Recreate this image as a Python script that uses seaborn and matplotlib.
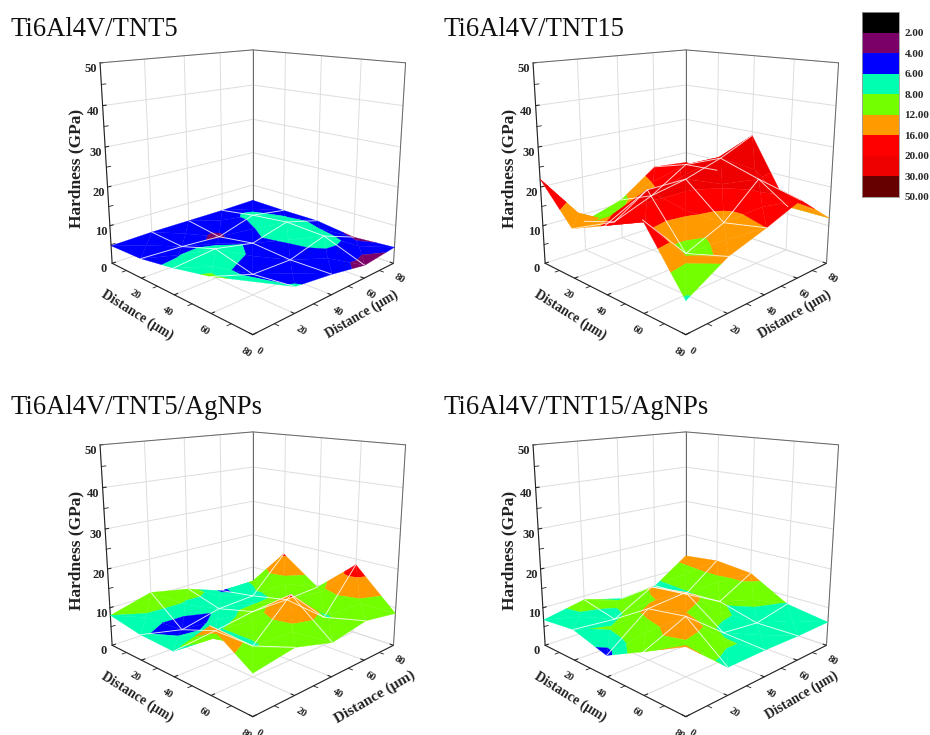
import numpy as np
import matplotlib
matplotlib.use("Agg")
import matplotlib.pyplot as plt
from matplotlib.colors import ListedColormap
from mpl_toolkits.mplot3d.art3d import Poly3DCollection
import seaborn as sns

# hardness, rows are x = 0..80, columns are y = 0..80
distance = [0, 20, 40, 60, 80]
nan = float("nan")
tnt5 = [[4.7, 5.0, 5.0, 5.0, 5.2],
        [5.0, 4.5, 3.7, 6.6, 5.0],
        [6.5, 7.5, 5.4, 7.8, 5.0],
        [8.5, 5.0, 4.7, 7.3, 3.6],
        [nan, 6.2, 5.0, 3.3, 4.3]]
tnt15 = [[22.0, 8.0, 11.0, 18.0, 17.0],
         [12.5, 11.0, 15.0, 21.0, 17.0],
         [16.5, 22.0, 22.0, 25.0, 29.0],
         [21.0, 10.0, 14.0, 22.0, 12.0],
         [7.4, 13.0, 16.0, 19.5, 12.0]]
tnt5_ag = [[8.0, 11.0, 9.0, 5.5, 4.7],
           [6.5, 4.2, 6.5, 7.0, 16.5],
           [6.2, 7.5, 9.0, 9.0, 9.5],
           [15.8, 7.5, 16.5, 7.5, 18.5],
           [9.4, 11.0, 8.3, 10.0, 8.5]]
tnt15_ag = [[6.8, 9.0, 6.2, 7.0, 13.5],
            [7.8, 7.0, 12.5, 7.5, 14.5],
            [5.2, 13.0, 14.0, 8.5, 13.5],
            [10.0, 14.5, 7.0, 6.0, 7.8],
            [15.0, 6.5, 6.5, 6.2, 6.2]]

titles = ["Ti6Al4V/TNT5", "Ti6Al4V/TNT15", "Ti6Al4V/TNT5/AgNPs", "Ti6Al4V/TNT15/AgNPs"]
panels = [tnt5, tnt15, tnt5_ag, tnt15_ag]
levels = [0, 2, 4, 6, 8, 12, 16, 20, 30, 50]
level_labels = ["2.00", "4.00", "6.00", "8.00", "12.00", "16.00", "20.00", "30.00", "50.00"]
band_colors = ["#000000", "#7b0068", "#0000ff", "#00ffb0", "#73ff00",
               "#ff9a00", "#ff0000", "#ee0000", "#660000"]

sns.set_style("white")
plt.rcParams["font.family"] = ["Liberation Serif", "DejaVu Serif"]
palette = sns.color_palette(band_colors)


def clip(poly, level, keep_above):
    # cut a polygon in 3d against a horizontal plane
    out = []
    for a, b in zip(poly, poly[1:] + poly[:1]):
        a_in = a[2] >= level if keep_above else a[2] <= level
        b_in = b[2] >= level if keep_above else b[2] <= level
        if a_in:
            out.append(a)
        if a_in != b_in:
            t = (level - a[2]) / (b[2] - a[2])
            out.append((a[0] + t * (b[0] - a[0]), a[1] + t * (b[1] - a[1]), level))
    return out


def cell_triangles(p):
    # four triangles round the cell centre, or one when a corner has no value
    p = [v for v in p if not np.isnan(v[2])]
    if len(p) < 3:
        return []
    if len(p) == 3:
        return [p]
    mid = tuple(np.mean(p, axis=0))
    return [[p[k], p[(k + 1) % 4], mid] for k in range(4)]


def band_polys(z, i, j):
    # flat coloured bands of one cell, same as a contour fill on its triangles
    polys, colors = [], []
    corners = [(i, j), (i + 1, j), (i + 1, j + 1), (i, j + 1)]
    p = [(distance[a], distance[b], z[a][b]) for a, b in corners]
    for tri in cell_triangles(p):
        for k in range(len(band_colors)):
            part = clip(tri, levels[k], True)
            if part:
                part = clip(part, levels[k + 1], False)
            if len(part) >= 3:
                polys.append(part)
                colors.append(palette[k])
    return polys, colors


def draw_panel(ax, z):
    ax.computed_zorder = False
    ax.set_proj_type("persp", focal_length=0.28)
    ax.view_init(elev=15, azim=-45)
    ax.set_box_aspect((1, 1, 1.0), zoom=0.81)
    ax.set_xlim(0, 80, view_margin=0)
    ax.set_ylim(0, 80, view_margin=0)
    ax.set_zlim(0, 50, view_margin=0)
    ax.set_xticks([20, 40, 60, 80])
    ax.set_yticks([0, 20, 40, 60, 80])
    ax.set_zticks([0, 10, 20, 30, 40, 50])
    ax.tick_params(axis="x", labelsize=7.5, pad=-2, labelrotation=-32)
    ax.tick_params(axis="y", labelsize=7.5, pad=-2, labelrotation=-32)
    ax.tick_params(axis="z", labelsize=9, pad=-3)
    ax.zaxis.set_ticks_position("lower")
    for axis in (ax.xaxis, ax.yaxis, ax.zaxis):
        axis.set_pane_color((1, 1, 1, 1))
        axis.pane.set_edgecolor("white")
        axis.line.set_color("#222222")
        axis.line.set_linewidth(0.8)
        axis._axinfo["grid"]["color"] = "#dddddd"
        axis._axinfo["grid"]["linewidth"] = 0.7
        axis._axinfo["tick"]["inward_factor"] = 0
        axis._axinfo["tick"]["outward_factor"] = 0.25
        for lab in axis.get_ticklabels():
            lab.set_fontweight("bold")

    # rest of the box
    for a, b in [((0, 80, 0), (0, 80, 50)), ((80, 80, 0), (80, 80, 50)),
                 ((0, 0, 50), (0, 80, 50)), ((0, 80, 50), (80, 80, 50))]:
        ax.plot(*zip(a, b), color="#666666", lw=0.7, zorder=1)

    # minor ticks
    for v in [10, 30, 50, 70]:
        ax.plot([v, v], [0, -2], [0, 0], color="#222222", lw=0.6, zorder=1)
        ax.plot([80, 82], [v, v], [0, 0], color="#222222", lw=0.6, zorder=1)
    for v in [5, 15, 25, 35, 45]:
        ax.plot([0, 0], [0, 2], [v, v], color="#222222", lw=0.6, zorder=1)

    # camera sits at high x, low y, so paint the cells back to front
    for i in range(4):
        for j in range(4):
            polys, colors = band_polys(z, i, j)
            if polys:
                surf = Poly3DCollection(polys, facecolors=colors, edgecolors=colors,
                                        linewidths=0.2, zorder=2 + (i + 3 - j) * 0.01)
                ax.add_collection3d(surf)

    # white mesh on the surface
    grid_z = np.array(z)
    for i in range(1, 4):
        ax.plot([distance[i]] * 5, distance, grid_z[i, :], color="white", lw=0.7, alpha=0.8, zorder=3)
        ax.plot(distance, [distance[i]] * 5, grid_z[:, i], color="white", lw=0.7, alpha=0.8, zorder=3)


def px_text(x, y, s, **kw):
    fig.text(x / 930, 1 - y / 735, s, ha="center", va="center", fontweight="bold", color="#222222", **kw)


fig = plt.figure(figsize=(9.3, 7.35), dpi=100)
origins = [(0, 0), (433, 0), (0, 382), (433, 382)]
title_y = [29, 29, 408, 408]
right_label = [(362, 314, 9.8), (362, 314, 9.8), (375, 315, 11), (369, 313, 9.8)]
size = 430
for name, z, (ox, oy), ty, rl in zip(titles, panels, origins, title_y, right_label):
    cx, cy = 247 + ox, 173 + oy
    ax = fig.add_axes([(cx - size / 2) / 930, 1 - (cy + size / 2) / 735, size / 930, size / 735],
                      projection="3d", facecolor="none")
    draw_panel(ax, z)
    fig.text((10 + ox) / 930, 1 - ty / 735, name, fontsize=19.2, color="#111111", va="center")
    px_text(76 + ox, 168 + oy, "Hardness (GPa)", fontsize=12.5, rotation=90)
    px_text(137 + ox, 315 + oy, "Distance (μm)", fontsize=9.8, rotation=-32)
    px_text(rl[0] + ox, rl[1] + oy, "Distance (μm)", fontsize=rl[2], rotation=30.5)

# legend column
cax = fig.add_axes([862 / 930, 1 - 197 / 735, 37 / 930, 185 / 735])
sns.heatmap(np.arange(9).reshape(-1, 1), cmap=ListedColormap(band_colors), cbar=False,
            xticklabels=False, yticklabels=False, ax=cax)
cax.yaxis.tick_right()
cax.set_yticks(np.arange(1, 10))
cax.set_yticklabels(level_labels, rotation=0, fontsize=8, fontweight="bold")
cax.tick_params(axis="y", length=0, pad=4)
for s in cax.spines.values():
    s.set_visible(True)
    s.set_color("#999999")
    s.set_linewidth(0.6)

fig.savefig("out.png", dpi=100)
